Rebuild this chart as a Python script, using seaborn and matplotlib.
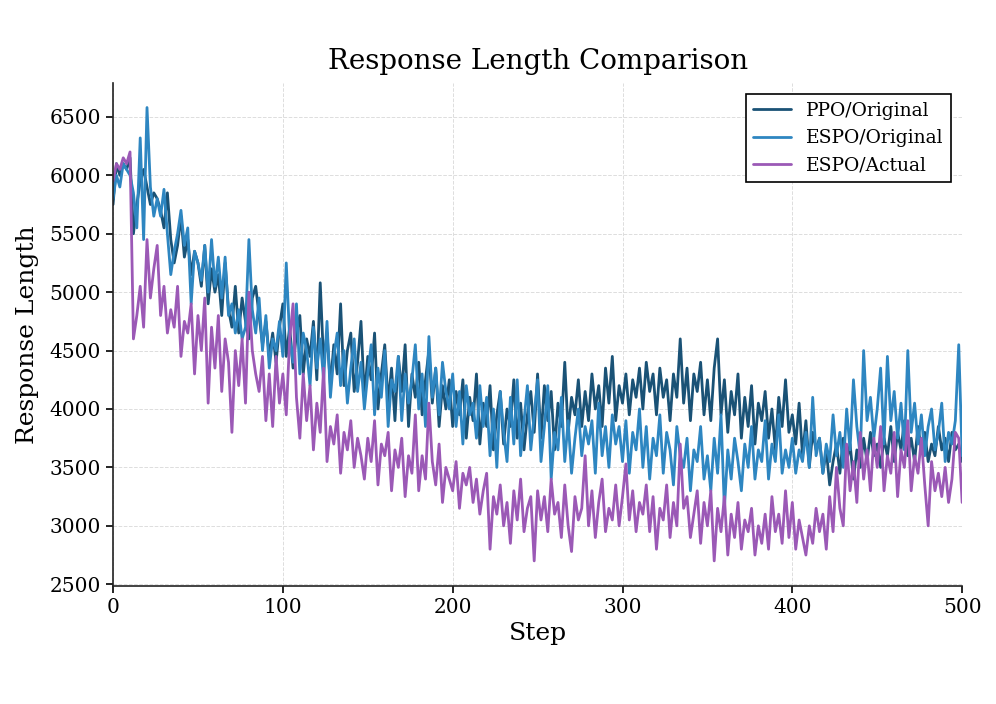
import matplotlib
matplotlib.use("Agg")
import matplotlib.pyplot as plt
import seaborn as sns
import numpy as np
import pandas as pd

# values, one every 2 steps
steps = list(range(0, 501, 2))

ppo_original = [
    5750, 6100, 6000, 6100, 6050, 6150, 5500, 5750, 5950, 6050, 5900, 5750, 5850, 5800, 5700, 5550, 5850, 5450, 5250, 5400, 5650, 5300, 5450, 5150, 5350,
    5250, 5050, 5400, 4900, 5200, 5000, 5150, 4800, 5250, 4850, 4700, 5050, 4650, 4950, 4750, 4600, 4950, 5050, 4800, 4550, 4750, 4450, 4650, 4400, 4700,
    4900, 4450, 4700, 4350, 4650, 4800, 4300, 4600, 4450, 4750, 4250, 5080, 4400, 4650, 4200, 4550, 4300, 4900, 4200, 4500, 4650, 4150, 4400, 4750, 4100,
    4450, 4250, 4650, 4000, 4300, 4550, 4050, 4350, 3900, 4450, 4150, 4550, 3850, 4300, 4100, 4400, 3950, 4250, 4500, 4050, 4350, 3850, 4200, 4000, 4250,
    3850, 4150, 3950, 4250, 3750, 4100, 3900, 4300, 3700, 4050, 3850, 4200, 3650, 3950, 4150, 3700, 4000, 3850, 4250, 3750, 4050, 3650, 3950, 4150, 3800,
    4300, 3750, 4200, 3900, 4150, 3650, 4050, 3850, 4400, 3800, 4100, 3950, 4250, 3850, 4150, 3900, 4300, 4000, 4200, 3850, 4350, 4050, 4450, 3900, 4200,
    4050, 4300, 3950, 4250, 4100, 4350, 4000, 4400, 4150, 4300, 3950, 4350, 4100, 4250, 3900, 4300, 4100, 4600, 4050, 4350, 3900, 4300, 4150, 4400, 3950,
    4250, 3900, 4350, 4600, 3950, 4250, 3800, 4150, 3950, 4300, 3750, 4100, 3850, 4200, 3700, 4050, 3900, 4150, 3750, 4000, 3650, 4100, 3850, 4250, 3800,
    3950, 3700, 4050, 3600, 3900, 3500, 3800, 3650, 3750, 3450, 3650, 3350, 3550, 3700, 3450, 3750, 3550, 3700, 3400, 3650, 3500, 3750, 3550, 3800, 3600,
    3700, 3500, 3750, 3600, 3850, 3550, 3800, 3650, 3900, 3600, 3750, 3550, 3850, 3650, 3800, 3550, 3700, 3600, 3850, 3650, 3750, 3550, 3800, 3650, 3700,
    3550,
]

espo_original = [
    5800, 6000, 5900, 6100, 6050, 6000, 5850, 5550, 6320, 5450, 6580, 5900, 5650, 5800, 5650, 5880, 5500, 5150, 5350, 5500, 5700, 5400, 5550, 4900, 5350,
    5250, 5100, 5400, 5000, 5450, 5050, 5300, 4950, 5300, 4800, 4900, 4650, 4850, 4600, 4700, 5450, 4850, 4650, 4950, 4500, 4800, 4350, 4600, 4500, 4750,
    4450, 5250, 4600, 4400, 4900, 4300, 4650, 4500, 4200, 4700, 4350, 4600, 4250, 4750, 4100, 4450, 4650, 4200, 4500, 4050, 4350, 4600, 4150, 4400, 4000,
    4300, 4550, 3950, 4350, 4100, 4500, 3850, 4250, 4150, 4450, 3900, 4300, 4050, 4250, 4550, 4000, 4300, 3850, 4620, 4100, 4350, 3950, 4400, 4150, 4000,
    4300, 3850, 4150, 3700, 4200, 3950, 4050, 3750, 4200, 3850, 4100, 3600, 4000, 3500, 4150, 3800, 3550, 4100, 3700, 4250, 3600, 3900, 4200, 3650, 3950,
    4250, 3550, 3850, 4200, 3400, 3800, 3650, 4100, 3550, 3900, 3450, 3750, 4000, 3600, 3850, 3700, 3900, 3450, 4050, 3600, 3850, 3500, 3950, 3700, 3850,
    3550, 3900, 3450, 3800, 3650, 4000, 3500, 3850, 3400, 3750, 3600, 3950, 3450, 3800, 3650, 3350, 3850, 3600, 3500, 3750, 3300, 3650, 3550, 3850, 3400,
    3600, 3300, 3750, 3450, 3950, 3150, 3650, 3400, 3750, 3550, 3300, 3700, 3500, 3850, 3400, 3650, 3550, 3900, 3400, 3700, 3550, 3950, 3450, 3650, 3500,
    3750, 3450, 3650, 3550, 3800, 3500, 4100, 3600, 3750, 3450, 3700, 3550, 3950, 3600, 3800, 3500, 4000, 3650, 4250, 3850, 3600, 4500, 3900, 4100, 3750,
    4000, 4350, 3700, 4450, 3900, 4150, 3750, 4050, 3650, 4500, 3800, 4050, 3700, 3950, 3600, 3850, 4000, 3650, 3800, 4050, 3550, 3800, 3700, 3900, 4550,
    3600,
]

espo_actual = [
    5950, 6100, 6050, 6150, 6100, 6200, 4600, 4800, 5050, 4700, 5450, 4950, 5200, 5400, 4800, 5050, 4650, 4850, 4700, 5050, 4450, 4750, 4650, 4900, 4300,
    4800, 4500, 4950, 4050, 4700, 4350, 4800, 4150, 4600, 4400, 3800, 4500, 4200, 4600, 4050, 5000, 4500, 4300, 4150, 4450, 3900, 4300, 3850, 4450, 4050,
    4300, 3950, 4600, 4900, 4100, 3750, 4300, 3900, 4200, 3650, 4050, 3800, 4350, 3550, 3850, 3700, 3950, 3450, 3800, 3650, 3900, 3500, 3750, 3600, 3400,
    3750, 3550, 3900, 3350, 3700, 3600, 3800, 3300, 3650, 3500, 3750, 3250, 3600, 3450, 3950, 3300, 3600, 3400, 4050, 3550, 3350, 3700, 3200, 3500, 3400,
    3300, 3550, 3150, 3450, 3350, 3500, 3200, 3400, 3100, 3300, 3450, 2800, 3250, 3100, 3350, 3000, 3200, 2850, 3300, 3050, 3400, 2950, 3150, 3250, 2700,
    3300, 3050, 3250, 2950, 3400, 3100, 3200, 2900, 3350, 3000, 2780, 3250, 3050, 3150, 3600, 3000, 3300, 2900, 3200, 3400, 2950, 3150, 3050, 3350, 3000,
    3250, 3530, 3050, 3300, 2950, 3200, 3100, 3350, 2950, 3250, 2800, 3150, 3050, 3350, 2900, 3200, 3000, 3700, 3150, 3250, 2900, 3100, 3300, 2850, 3200,
    3000, 3300, 2700, 3150, 2950, 3250, 2750, 3100, 2900, 3200, 2800, 3050, 2950, 3150, 2750, 3000, 2850, 3100, 2800, 3250, 2950, 3100, 2850, 3300, 2900,
    3200, 2800, 3050, 2900, 2750, 3000, 2850, 3150, 2950, 3100, 2800, 3250, 2950, 3500, 3150, 3000, 3700, 3300, 3550, 3200, 3800, 3400, 3650, 3300, 3750,
    3500, 3850, 3300, 3600, 3450, 3800, 3250, 3650, 3500, 3900, 3300, 3600, 3450, 3750, 3350, 3000, 3550, 3300, 3450, 3250, 3500, 3200, 3400, 3800, 3750,
    3200,
]

series_names = ['PPO/Original', 'ESPO/Original', 'ESPO/Actual']
series_colors = ['#1a5276', '#2e86c1', '#9b59b6']

df = pd.concat([
    pd.DataFrame({'Step': steps, 'Response Length': vals, 'Run': name})
    for name, vals in zip(series_names, [ppo_original, espo_original, espo_actual])
])

sns.set_style("white")
plt.rcParams['font.family'] = ['DejaVu Serif']
plt.rcParams['text.color'] = 'black'
plt.rcParams['axes.labelcolor'] = 'black'
plt.rcParams['xtick.color'] = 'black'
plt.rcParams['ytick.color'] = 'black'

fig = plt.figure(figsize=(9.96, 7.04), dpi=100)
ax = fig.add_axes([0.1135, 0.1676, 0.8525, 0.7145])

sns.lineplot(ax=ax, data=df, x='Step', y='Response Length', hue='Run',
             palette=dict(zip(series_names, series_colors)), linewidth=2)

ax.set_xlim(0, 500)
ax.set_ylim(2485, 6790)
ax.set_yticks(np.arange(2500, 6501, 500))
ax.set_xticks([0, 100, 200, 300, 400, 500])
ax.grid(True, linestyle='--', linewidth=0.7, color='#dddddd')
sns.despine(ax=ax)
ax.tick_params(axis='both', labelsize=14.5, length=5, width=1.2, direction='out', bottom=True, left=True)
for s in ['left', 'bottom']:
    ax.spines[s].set_linewidth(1.2)
    ax.spines[s].set_color('#222222')

ax.set_title('Response Length Comparison', fontsize=20, pad=10)
ax.set_xlabel('Step', fontsize=18)
ax.set_ylabel('Response Length', fontsize=18, labelpad=8)

leg = ax.legend(loc='upper right', fontsize=13.5, frameon=True, fancybox=False,
                edgecolor='black', framealpha=1, borderaxespad=0.6)
leg.get_frame().set_linewidth(1.2)

fig.savefig('out.png', dpi=100)
